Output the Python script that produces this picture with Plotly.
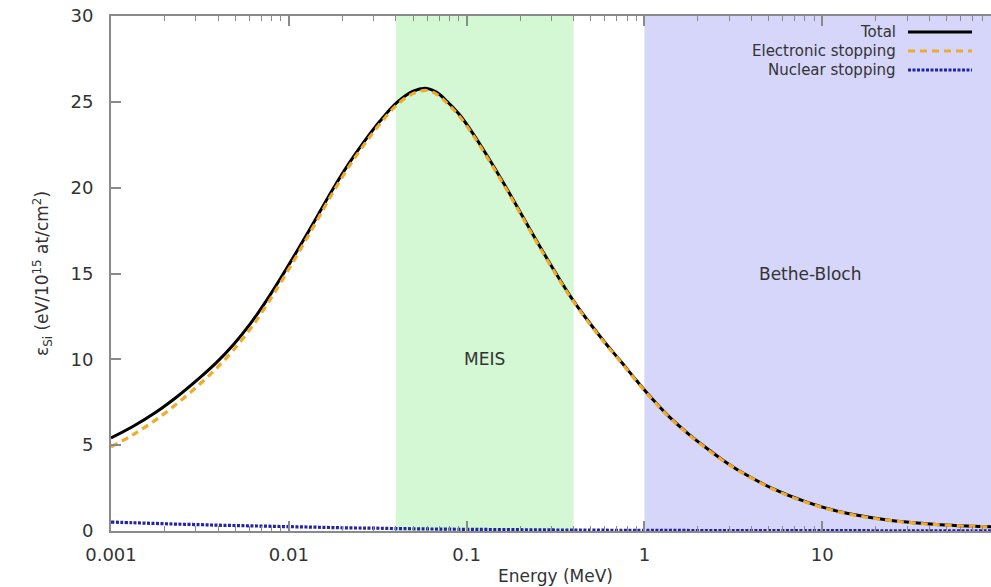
import math
import plotly.graph_objects as go

# ---- data ----
energy_mev = [0.001, 0.001334, 0.001778, 0.002371, 0.003162, 0.003926, 0.004875, 0.006053,
              0.007516, 0.009311, 0.01156, 0.01436, 0.01778, 0.02208, 0.02742, 0.03258,
              0.04046, 0.05012, 0.0597, 0.06792, 0.07727, 0.09183, 0.1091, 0.1297,
              0.1607, 0.1995, 0.2477, 0.3076, 0.3819, 0.4732, 0.5875, 0.7295, 0.9057,
              1.122, 1.39, 1.726, 2.138, 2.754, 3.451, 5.309, 8.185, 12.59, 19.41,
              29.85, 46.03, 70.79, 100.0]

total = [5.42, 6.10, 6.90, 7.85, 8.93, 9.82, 10.85, 12.05, 13.45, 14.98,
         16.6, 18.28, 19.95, 21.5, 22.88, 23.88, 24.95, 25.62, 25.78, 25.55,
         25.05, 24.22, 23.12, 21.9, 20.3, 18.6, 16.9, 15.25, 13.7, 12.35,
         11.1, 9.93, 8.75, 7.63, 6.62, 5.75, 4.98, 4.14, 3.48, 2.45,
         1.68, 1.12, 0.76, 0.52, 0.37, 0.28, 0.22]

electronic = [4.90, 5.62, 6.46, 7.45, 8.56, 9.48, 10.53, 11.75, 13.17, 14.72,
              16.36, 18.06, 19.75, 21.32, 22.71, 23.72, 24.81, 25.49, 25.66, 25.44,
              24.94, 24.12, 23.03, 21.81, 20.22, 18.53, 16.83, 15.19, 13.65, 12.30,
              11.05, 9.89, 8.71, 7.59, 6.59, 5.72, 4.95, 4.11, 3.46, 2.43,
              1.66, 1.10, 0.74, 0.51, 0.36, 0.27, 0.21]

nuclear = [0.52, 0.48, 0.44, 0.40, 0.37, 0.34, 0.32, 0.30, 0.28, 0.26,
           0.24, 0.22, 0.20, 0.18, 0.17, 0.16, 0.14, 0.13, 0.12, 0.115,
           0.11, 0.10, 0.095, 0.09, 0.08, 0.075, 0.07, 0.06, 0.055, 0.05,
           0.046, 0.042, 0.039, 0.036, 0.034, 0.031, 0.029, 0.027, 0.025, 0.022,
           0.020, 0.018, 0.016, 0.014, 0.013, 0.012, 0.011]

meis_range = [0.04, 0.4]
bethe_start = 1.0
bethe_end = 100.0

x_tickvals = [0.001, 0.01, 0.1, 1, 10]
x_ticktext = ["0.001", "0.01", "0.1", "1", "10"]
y_tickvals = [0, 5, 10, 15, 20, 25, 30]

series_names = ["Total", "Electronic stopping", "Nuclear stopping"]

# ---- style ----
FONT = "DejaVu Sans"
TXT = "#333333"
AX = "#8a8a8a"
C_TOTAL = "#000000"
C_ELEC = "#f0aa2c"
C_NUC = "#2222aa"
DASH_ELEC = "7px,5px"
DASH_NUC = "3px,1.5px"

W, H = 991, 587
ML, MR, MT, MB = 111, 0, 16, 56
PW = W - ML - MR
PH = H - MT - MB

fig = go.Figure()

fig.add_vrect(x0=meis_range[0], x1=meis_range[1], fillcolor="#d4f8d4",
              line_width=0, layer="below")
fig.add_vrect(x0=bethe_start, x1=bethe_end, fillcolor="#d6d6fa",
              line_width=0, layer="below")

fig.add_trace(go.Scatter(x=energy_mev, y=total, mode="lines", name=series_names[0],
                         line=dict(color=C_TOTAL, width=3, shape="spline", smoothing=1)))
fig.add_trace(go.Scatter(x=energy_mev, y=electronic, mode="lines", name=series_names[1],
                         line=dict(color=C_ELEC, width=3.2, dash=DASH_ELEC,
                                   shape="spline", smoothing=1)))
fig.add_trace(go.Scatter(x=energy_mev, y=nuclear, mode="lines", name=series_names[2],
                         line=dict(color=C_NUC, width=3.2, dash=DASH_NUC,
                                   shape="spline", smoothing=1)))

x_right_log = math.log10(x_tickvals[0]) + PW / 177.8

fig.update_xaxes(type="log", range=[math.log10(x_tickvals[0]), x_right_log],
                 tickvals=x_tickvals, ticktext=x_ticktext,
                 ticks="inside", ticklen=10, tickwidth=1.5, tickcolor=AX,
                 minor=dict(ticks="inside", ticklen=5, tickwidth=1.2, tickcolor=AX, dtick="D1"),
                 showline=True, linecolor=AX, linewidth=2, mirror="ticks",
                 showgrid=False, zeroline=False,
                 tickfont=dict(family=FONT, size=18, color=TXT), ticklabelstandoff=6)
fig.update_yaxes(range=[0, 30], tickvals=y_tickvals,
                 ticks="inside", ticklen=10, tickwidth=1.5, tickcolor=AX,
                 showline=True, linecolor=AX, linewidth=2, mirror=False,
                 showgrid=False, zeroline=False,
                 tickfont=dict(family=FONT, size=18, color=TXT), ticklabelstandoff=12)

annotations = []
# region labels
meis_center = math.log10(math.sqrt(meis_range[0] * meis_range[1]))
annotations.append(dict(x=meis_center, y=10, xref="x", yref="y", text="MEIS",
                        showarrow=False, font=dict(family=FONT, size=17, color=TXT)))
annotations.append(dict(x=math.log10(8.5), y=15, xref="x", yref="y", text="Bethe-Bloch",
                        showarrow=False, font=dict(family=FONT, size=17, color=TXT)))
# axis titles
annotations.append(dict(x=(555 - ML) / PW, y=0, xref="paper", yref="paper",
                        yshift=-(576 - (MT + PH)), text="Energy (MeV)", showarrow=False,
                        xanchor="center", yanchor="middle",
                        font=dict(family=FONT, size=17, color=TXT)))
annotations.append(dict(x=0, y=(MT + PH - 274) / PH, xref="paper", yref="paper",
                        xshift=-(ML - 42), textangle=-90,
                        text="ε<sub>Si</sub> (eV/10<sup>15</sup> at/cm<sup>2</sup>)",
                        showarrow=False, xanchor="center", yanchor="middle",
                        font=dict(family=FONT, size=17, color=TXT)))

# custom legend (text right-aligned, sample to the right, as in gnuplot)
legend_rows_px = [32, 51, 70]
legend_styles = [dict(color=C_TOTAL, width=3, dash="solid"),
                 dict(color=C_ELEC, width=3, dash=DASH_ELEC),
                 dict(color=C_NUC, width=3, dash=DASH_NUC)]
shapes = []
for name, ypx, sty in zip(series_names, legend_rows_px, legend_styles):
    yp = (MT + PH - ypx) / PH
    annotations.append(dict(x=(897 - ML) / PW, y=yp, xref="paper", yref="paper",
                            text=name, showarrow=False, xanchor="right", yanchor="middle",
                            borderpad=0,
                            font=dict(family=FONT, size=15, color=TXT)))
    shapes.append(dict(type="line", xref="paper", yref="paper",
                       x0=(908 - ML) / PW, x1=(972 - ML) / PW, y0=yp, y1=yp,
                       line=sty))

fig.update_layout(width=W, height=H, margin=dict(l=ML, r=MR, t=MT, b=MB),
                  paper_bgcolor="white", plot_bgcolor="white", showlegend=False,
                  annotations=annotations, shapes=list(fig.layout.shapes) + shapes)

fig.write_html("out.html")
